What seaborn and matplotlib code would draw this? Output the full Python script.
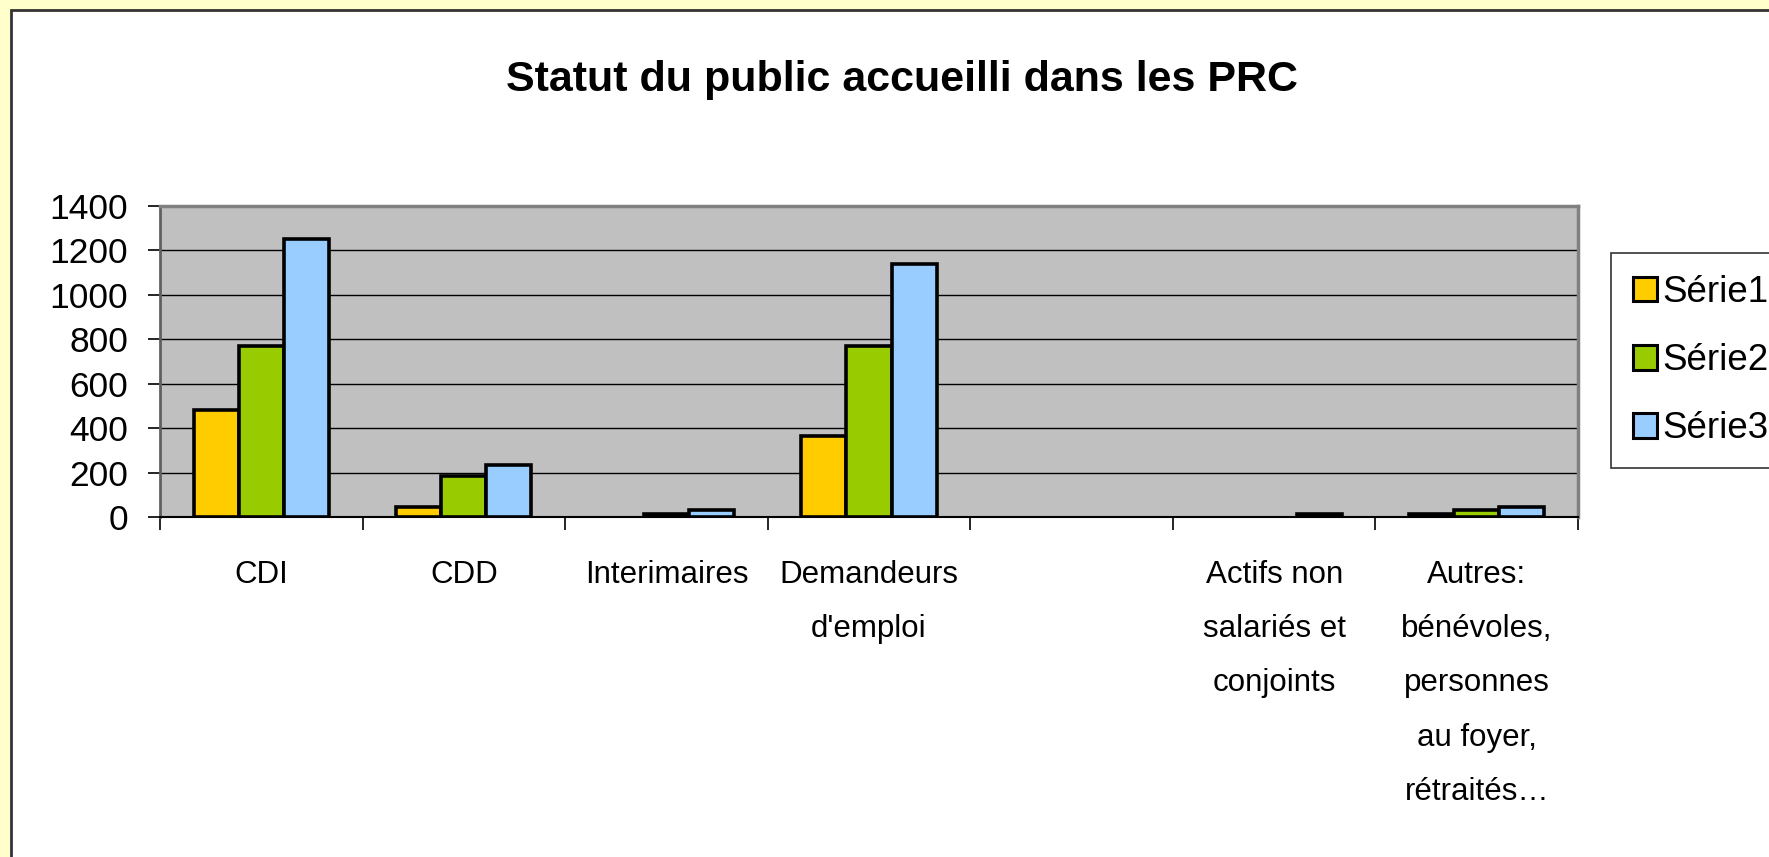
import numpy as np
import pandas as pd
import matplotlib
matplotlib.use("Agg")
import matplotlib.pyplot as plt
from matplotlib.patches import Rectangle
import seaborn as sns

categories = ["CDI", "CDD", "Interimaires", "Demandeurs\nd'emploi", "",
              "Actifs non\nsalariés et\nconjoints",
              "Autres:\nbénévoles,\npersonnes\nau foyer,\nrétraités…"]
series_names = ["Série1", "Série2", "Série3"]
serie1 = [480, 45, np.nan, 365, np.nan, np.nan, 15]
serie2 = [770, 185, 15, 770, np.nan, np.nan, 30]
serie3 = [1250, 235, 30, 1140, np.nan, 15, 45]
yticks = [0, 200, 400, 600, 800, 1000, 1200, 1400]
colors = ["#FFCC00", "#99CC00", "#99CCFF"]

rows = []
for name, vals in zip(series_names, [serie1, serie2, serie3]):
    for c, v in zip(categories, vals):
        rows.append({"cat": c, "serie": name, "val": v})
df = pd.DataFrame(rows)

sns.set_theme(style="white")
plt.rcParams['font.family'] = ['Liberation Sans', 'DejaVu Sans']
plt.rcParams['text.color'] = 'black'
plt.rcParams['xtick.color'] = 'black'
plt.rcParams['ytick.color'] = 'black'
plt.rcParams['xtick.labelcolor'] = 'black'
plt.rcParams['ytick.labelcolor'] = 'black'

W, H = 1769, 857
fig = plt.figure(figsize=(W / 100, H / 100), dpi=100)
fig.patch.set_facecolor("#FFFFCC")
fig.patches.append(Rectangle((11 / W, -0.1), 1.2, 1 - 10 / H + 0.1,
                             transform=fig.transFigure, facecolor="white",
                             edgecolor="#333333", linewidth=2, zorder=-10))

ax = fig.add_axes([160 / W, 1 - 517 / H, (1578 - 160) / W, (517 - 206) / H])
sns.barplot(data=df, x="cat", y="val", hue="serie", order=categories,
            hue_order=series_names, palette=colors, width=0.667, gap=0,
            errorbar=None, edgecolor="black", linewidth=2.6, saturation=1,
            ax=ax)
ax.set_facecolor("#C0C0C0")
ax.set_axisbelow(True)
ax.set_ylim(0, 1400)
ax.set_yticks(yticks)
ax.set_yticklabels([str(t) for t in yticks])
ax.yaxis.grid(True, color="black", linewidth=1.0)
ax.xaxis.grid(False)
ax.set_xlim(-0.5, len(categories) - 0.5)
ax.set_xlabel("")
ax.set_ylabel("")

ax.set_xticks(np.arange(len(categories) + 1) - 0.5, minor=True)
ax.tick_params(axis="x", which="major", length=0, pad=31, labelsize=22.5,
               labelcolor="black")
ax.tick_params(axis="x", which="minor", length=9, width=1.2, color="black",
               direction="out", bottom=True)
ax.tick_params(axis="y", which="major", length=9, width=1.2, color="black",
               direction="out", left=True, pad=14, labelsize=25.5,
               labelcolor="black")
for lbl in ax.get_xticklabels():
    lbl.set_linespacing(2.05)
    lbl.set_verticalalignment("top")

for s in ["top", "right"]:
    ax.spines[s].set_color("#808080")
    ax.spines[s].set_linewidth(2.5)
ax.spines["left"].set_color("#606060")
ax.spines["left"].set_linewidth(2)
ax.spines["bottom"].set_color("black")
ax.spines["bottom"].set_linewidth(1.5)

handles, labels = ax.get_legend_handles_labels()
ax.get_legend().remove()
leg = fig.legend(handles, labels, loc="upper left",
                 bbox_to_anchor=(1611 / W, 1 - 253 / H),
                 fontsize=26.5, frameon=True, fancybox=False,
                 handlelength=0.65, handleheight=0.65, handletextpad=0.15,
                 labelspacing=0.9, borderpad=0.6, borderaxespad=0)
leg.get_frame().set_edgecolor("black")
leg.get_frame().set_linewidth(1.2)
leg.get_frame().set_facecolor("white")
for t in leg.get_texts():
    t.set_color("black")
for h in leg.legend_handles:
    h.set_linewidth(2.2)
    h.set_edgecolor("black")

fig.text(902 / W, 1 - 80 / H, "Statut du public accueilli dans les PRC",
         ha="center", va="center", fontsize=31, fontweight="bold",
         color="black")

fig.savefig("out.png", dpi=100, facecolor=fig.get_facecolor())
